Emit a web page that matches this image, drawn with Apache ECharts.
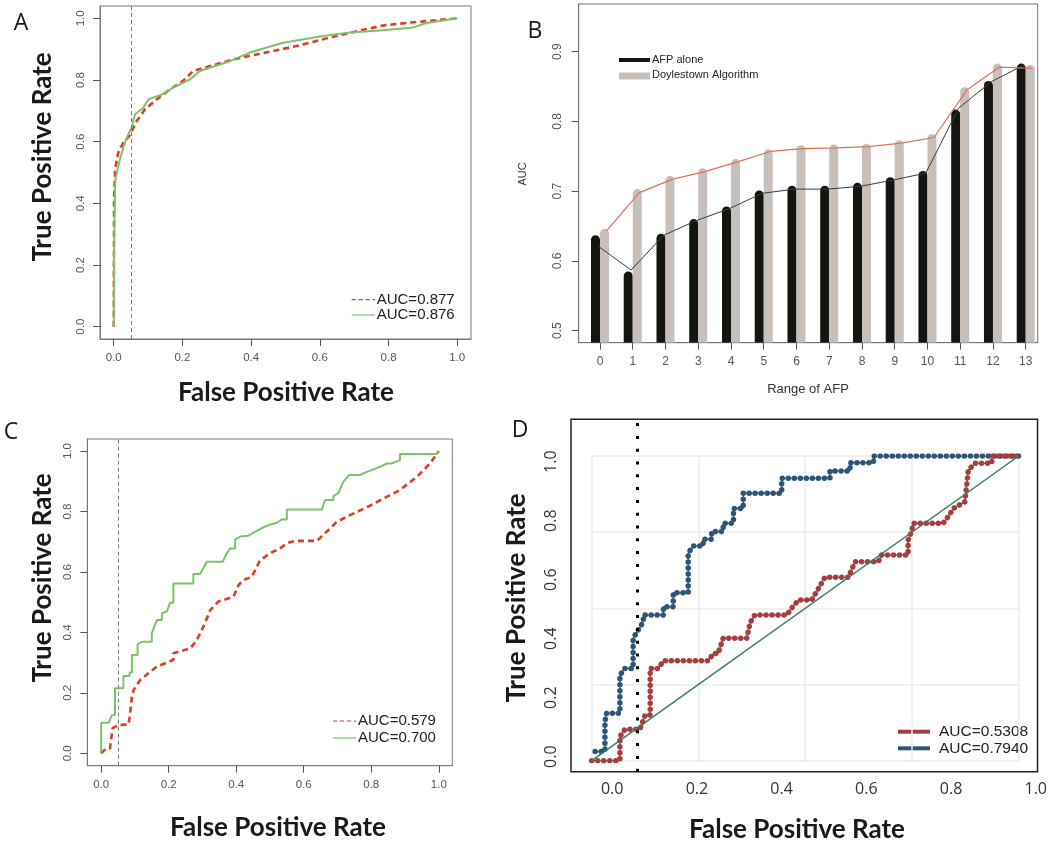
<!DOCTYPE html>
<html>
<head>
<meta charset="utf-8">
<title>ROC panels</title>
<script src="https://cdn.jsdelivr.net/npm/echarts@6/dist/echarts.min.js"></script>
<style>
  html, body { margin: 0; padding: 0; background: #fff; }
  #chart { width: 1050px; height: 844px; }
</style>
</head>
<body>
<div id="chart"></div>
<script>
// panel A - ROC, whole cohort
const aFprDash = [0, 0.001, 0.004, 0.013, 0.028, 0.045, 0.067, 0.091, 0.125, 0.164, 0.202, 0.231, 0.299, 0.348, 0.416, 0.532, 0.648, 0.784, 0.881, 1];
const aTprDash = [0, 0.413, 0.510, 0.564, 0.597, 0.618, 0.667, 0.705, 0.737, 0.770, 0.797, 0.829, 0.851, 0.867, 0.883, 0.910, 0.943, 0.977, 0.988, 1];
const aFprSolid = [0, 0.001, 0.004, 0.005, 0.018, 0.028, 0.038, 0.052, 0.062, 0.086, 0.101, 0.140, 0.173, 0.222, 0.251, 0.338, 0.396, 0.493, 0.609, 0.687, 0.784, 0.871, 0.910, 1];
const aTprSolid = [0, 0.251, 0.445, 0.478, 0.543, 0.581, 0.613, 0.645, 0.689, 0.710, 0.737, 0.753, 0.775, 0.802, 0.829, 0.861, 0.889, 0.921, 0.943, 0.954, 0.961, 0.970, 0.985, 1];

// panel B - AUC by range of AFP
const afpRanges = [0, 1, 2, 3, 4, 5, 6, 7, 8, 9, 10, 11, 12, 13];
const aucAfpAlone = [0.637, 0.585, 0.639, 0.660, 0.678, 0.701, 0.708, 0.708, 0.712, 0.720, 0.729, 0.817, 0.858, 0.883];
const aucDoylestown = [0.646, 0.703, 0.722, 0.733, 0.746, 0.760, 0.766, 0.767, 0.768, 0.773, 0.782, 0.849, 0.883, 0.881];
const trendAfpAlone = [0.621, 0.587, 0.637, 0.658, 0.675, 0.697, 0.703, 0.703, 0.707, 0.716, 0.726, 0.819, 0.857, 0.881];
const trendDoylestown = [0.643, 0.698, 0.717, 0.728, 0.742, 0.757, 0.761, 0.762, 0.764, 0.769, 0.777, 0.845, 0.878, 0.876];
const bTicks = [0.5, 0.6, 0.7, 0.8, 0.9];

// panel C - ROC, subgroup
const cFprDash = [0, 0.015, 0.026, 0.034, 0.051, 0.081, 0.086, 0.091, 0.096, 0.115, 0.140, 0.165, 0.195, 0.214, 0.214, 0.264, 0.283, 0.303, 0.323, 0.347, 0.392, 0.407, 0.421, 0.446, 0.471, 0.500, 0.530, 0.550, 0.574, 0.639, 0.663, 0.698, 0.737, 0.787, 0.836, 0.885, 0.935, 0.974, 1];
const cTprDash = [0, 0.016, 0.016, 0.083, 0.094, 0.095, 0.132, 0.187, 0.209, 0.242, 0.265, 0.287, 0.300, 0.309, 0.331, 0.347, 0.375, 0.419, 0.474, 0.502, 0.518, 0.557, 0.573, 0.584, 0.639, 0.662, 0.678, 0.695, 0.703, 0.703, 0.728, 0.766, 0.788, 0.814, 0.843, 0.871, 0.915, 0.959, 1];
const cFprSolid = [0, 0, 0.022, 0.032, 0.041, 0.041, 0.066, 0.066, 0.084, 0.084, 0.091, 0.091, 0.108, 0.108, 0.120, 0.150, 0.150, 0.158, 0.165, 0.180, 0.180, 0.195, 0.204, 0.214, 0.214, 0.273, 0.273, 0.293, 0.313, 0.360, 0.372, 0.382, 0.397, 0.397, 0.412, 0.436, 0.461, 0.481, 0.496, 0.520, 0.535, 0.550, 0.550, 0.654, 0.663, 0.688, 0.688, 0.703, 0.717, 0.735, 0.767, 0.780, 0.801, 0.826, 0.846, 0.860, 0.885, 0.885, 0.994, 1];
const cTprSolid = [0, 0.101, 0.101, 0.127, 0.127, 0.215, 0.215, 0.256, 0.256, 0.267, 0.267, 0.325, 0.325, 0.360, 0.369, 0.369, 0.397, 0.421, 0.441, 0.441, 0.463, 0.470, 0.498, 0.498, 0.562, 0.562, 0.593, 0.593, 0.634, 0.634, 0.662, 0.678, 0.678, 0.708, 0.717, 0.720, 0.736, 0.748, 0.755, 0.763, 0.774, 0.774, 0.807, 0.807, 0.838, 0.838, 0.851, 0.862, 0.898, 0.921, 0.921, 0.928, 0.937, 0.948, 0.959, 0.959, 0.970, 0.990, 0.990, 1];

// panel D - ROC with thresholds marked
const dFprBlue = [0.008, 0.031, 0.031, 0.035, 0.066, 0.066, 0.078, 0.097, 0.097, 0.109, 0.121, 0.121, 0.168, 0.168, 0.191, 0.191, 0.226, 0.226, 0.238, 0.261, 0.261, 0.281, 0.281, 0.308, 0.308, 0.332, 0.332, 0.355, 0.355, 0.445, 0.445, 0.558, 0.558, 0.605, 0.605, 0.660, 0.660, 1];
const dTprBlue = [0.030, 0.030, 0.128, 0.156, 0.156, 0.281, 0.303, 0.303, 0.402, 0.429, 0.456, 0.478, 0.478, 0.505, 0.505, 0.551, 0.551, 0.681, 0.705, 0.705, 0.727, 0.727, 0.752, 0.752, 0.779, 0.779, 0.828, 0.828, 0.878, 0.878, 0.927, 0.927, 0.951, 0.951, 0.978, 0.978, 1, 1];
const dFprRed = [0, 0.066, 0.066, 0.078, 0.113, 0.125, 0.137, 0.137, 0.156, 0.168, 0.273, 0.285, 0.296, 0.308, 0.363, 0.371, 0.382, 0.457, 0.468, 0.484, 0.515, 0.527, 0.546, 0.601, 0.609, 0.617, 0.671, 0.679, 0.741, 0.741, 0.749, 0.753, 0.823, 0.835, 0.847, 0.874, 0.882, 0.898, 0.937, 0.937, 1];
const dTprRed = [0, 0, 0.079, 0.103, 0.103, 0.150, 0.150, 0.303, 0.303, 0.328, 0.328, 0.352, 0.352, 0.402, 0.402, 0.453, 0.478, 0.478, 0.500, 0.527, 0.527, 0.555, 0.602, 0.602, 0.628, 0.653, 0.653, 0.675, 0.675, 0.724, 0.752, 0.779, 0.779, 0.801, 0.828, 0.850, 0.954, 0.976, 0.976, 1, 1];
const chanceLine = [0, 1];
const rateTicks = [0, 0.2, 0.4, 0.6, 0.8, 1];

const fprCutoff = 0.05;
const dCutoff = 0.055;

const zip = (xs, ys) => xs.map((x, i) => [x, ys[i]]);

const RED = '#e03b24';
const GREEN = '#7dc36b';
const DBLUE = '#2e5577';
const DRED = '#a53f3f';

// R style axis: box drawn by the grid, ticks outside, labels from customValues
function rAxis(grid, min, max, ticks, opts) {
	opts = opts || {};
	return {
		type: 'value', gridIndex: grid, min: min, max: max,
		axisLine: { show: true, onZero: false, lineStyle: { color: '#777', width: 1 } },
		splitLine: { show: false },
		axisTick: { show: true, customValues: ticks, length: 7, lineStyle: { color: '#555', width: 1 } },
		axisLabel: {
			customValues: ticks, margin: opts.margin || 13, rotate: opts.rotate || 0,
			color: '#555', fontSize: opts.fontSize || 11.5, fontFamily: 'Liberation Sans',
			formatter: opts.formatter || (v => v.toFixed(1))
		}
	};
}

function lineSeries(x, y, data, style, extra) {
	return Object.assign({
		type: 'line', xAxisIndex: x, yAxisIndex: y, data: data,
		symbol: 'none', showSymbol: false, animation: false,
		lineStyle: style
	}, extra || {});
}

function cutLine(value, style) {
	return { silent: true, symbol: 'none', label: { show: false }, lineStyle: style, data: [{ xAxis: value }] };
}

function barRender(offset, color) {
	return function (params, api) {
		const x = api.value(0), v = api.value(1);
		const w = 0.275;
		const x0 = offset < 0 ? x - w : x;
		const p0 = api.coord([x0, v]);
		const p1 = api.coord([x0 + w, v]);
		const bottom = params.coordSys.y + params.coordSys.height;
		const r = (p1[0] - p0[0]) / 2;
		return {
			type: 'rect',
			shape: { x: p0[0], y: p0[1], width: p1[0] - p0[0], height: bottom - p0[1], r: [r, r, 0, 0] },
			style: { fill: color }
		};
	};
}

function txt(x, y, s, font, fill, rot) {
	return {
		type: 'text', x: x, y: y, silent: true, rotation: rot || 0,
		style: { text: s, font: font, fill: fill || '#1a1a1a', align: 'center', verticalAlign: 'middle', textAlign: 'center', textVerticalAlign: 'middle' }
	};
}
function seg(x1, y1, x2, y2, stroke, width, dash) {
	return { type: 'line', silent: true, shape: { x1: x1, y1: y1, x2: x2, y2: y2 }, style: { stroke: stroke, lineWidth: width, lineDash: dash || null } };
}
function legText(x, y, s, size) {
	return { type: 'text', x: x, y: y, silent: true, style: { text: s, font: size + 'px "Liberation Sans"', fill: '#222', align: 'left', verticalAlign: 'middle', textAlign: 'left', textVerticalAlign: 'middle' } };
}

const TITLE = 'bold 26px Lato';
const LETTER = '23px "Open Sans"';
const UP = Math.PI / 2;

const chart = echarts.init(document.getElementById('chart'), null, { renderer: 'canvas' });

chart.setOption({
	backgroundColor: '#fff',
	animation: false,
	grid: [
		{ left: 100, top: 6, width: 371, height: 333, show: true, borderColor: '#777', borderWidth: 1 },
		{ left: 578.7, top: 4, width: 459, height: 338.7, show: true, borderColor: '#777', borderWidth: 1 },
		{ left: 87.3, top: 439, width: 365, height: 326.7, show: true, borderColor: '#777', borderWidth: 1 },
		{ left: 571, top: 419.3, width: 474.7, height: 352.4, show: true, borderColor: '#222', borderWidth: 1.5 },
		{ left: 591.7, top: 456, width: 427, height: 304.7 }
	],
	xAxis: [
		rAxis(0, -0.04, 1.04, rateTicks),
		rAxis(1, -0.65, 13.366, afpRanges, { fontSize: 12, formatter: v => String(v) }),
		rAxis(2, -0.041, 1.04, rateTicks),
		{
			type: 'value', gridIndex: 3, min: -0.0972, max: 1.0042,
			axisLine: { show: false, onZero: false }, axisTick: { show: false }, splitLine: { show: false },
			axisLabel: { customValues: rateTicks, margin: 10, color: '#333', fontSize: 16, fontFamily: 'Open Sans', formatter: v => v.toFixed(1) }
		},
		{
			type: 'value', gridIndex: 4, min: 0, max: 1, interval: 0.25,
			axisLine: { show: false, onZero: false }, axisTick: { show: false }, axisLabel: { show: false },
			splitLine: { show: true, lineStyle: { color: '#ebebeb', width: 1.5 } }
		}
	],
	yAxis: [
		rAxis(0, -0.04, 1.04, rateTicks, { rotate: 90 }),
		rAxis(1, 0.4828, 0.9684, bTicks, { rotate: 90, fontSize: 12, margin: 15 }),
		rAxis(2, -0.041, 1.04, rateTicks, { rotate: 90 }),
		{
			type: 'value', gridIndex: 3, min: -0.0508, max: 1.1437,
			axisLine: { show: false, onZero: false }, axisTick: { show: false }, splitLine: { show: false },
			axisLabel: { customValues: rateTicks, margin: 12, rotate: 90, color: '#333', fontSize: 16, fontFamily: 'Open Sans', formatter: v => v.toFixed(1) }
		},
		{
			type: 'value', gridIndex: 4, min: 0, max: 1, interval: 0.25,
			axisLine: { show: false, onZero: false }, axisTick: { show: false }, axisLabel: { show: false },
			splitLine: { show: true, lineStyle: { color: '#ebebeb', width: 1.5 } }
		}
	],
	series: [
		// A
		lineSeries(0, 0, zip(aFprDash, aTprDash), { color: RED, width: 2.6, type: [6, 4] },
			{ markLine: cutLine(fprCutoff, { color: '#7a7a7a', width: 1, type: [4, 3] }) }),
		lineSeries(0, 0, zip(aFprSolid, aTprSolid), { color: GREEN, width: 2 }),

		// B
		{
			type: 'custom', xAxisIndex: 1, yAxisIndex: 1, renderItem: barRender(-1, '#141410'),
			data: zip(afpRanges, aucAfpAlone), clip: true
		},
		{
			type: 'custom', xAxisIndex: 1, yAxisIndex: 1, renderItem: barRender(1, '#c6bfba'),
			data: zip(afpRanges, aucDoylestown), clip: true
		},
		lineSeries(1, 1, zip(afpRanges.map(i => i - 0.05), trendAfpAlone), { color: '#3a3a3a', width: 1 }, { z: 5 }),
		lineSeries(1, 1, zip(afpRanges.map(i => i + 0.2), trendDoylestown), { color: '#e0705c', width: 1.2 }, { z: 5 }),

		// C
		lineSeries(2, 2, zip(cFprDash, cTprDash), { color: RED, width: 2.6, type: [6, 4] },
			{ markLine: cutLine(fprCutoff, { color: '#7a7a7a', width: 1, type: [4, 3] }) }),
		lineSeries(2, 2, zip(cFprSolid, cTprSolid), { color: GREEN, width: 2 }),

		// D - cutoff on the outer (label) axes
		lineSeries(3, 3, [], { width: 0 }, {
			markLine: cutLine(dCutoff, { color: '#000', width: 3, type: [3, 9.8] })
		}),
		lineSeries(4, 4, zip(dFprBlue, dTprBlue), { color: DBLUE, width: 1.2 }),
		lineSeries(4, 4, zip(dFprBlue, dTprBlue), { color: DBLUE, width: 5.5, type: [0.01, 6], cap: 'round' }),
		lineSeries(4, 4, zip(dFprRed, dTprRed), { color: DRED, width: 1.2 }),
		lineSeries(4, 4, zip(dFprRed, dTprRed), { color: DRED, width: 5.5, type: [0.01, 6], cap: 'round' }),
		lineSeries(4, 4, zip(chanceLine, chanceLine), { color: '#3b7a66', width: 1.5 })
	],
	graphic: [
		// panel letters
		txt(21, 23, 'A', LETTER),
		txt(535, 31, 'B', LETTER),
		txt(11, 432, 'C', LETTER),
		txt(520, 430, 'D', LETTER),

		// axis titles
		txt(43, 157, 'True Positive Rate', TITLE, null, UP),
		txt(286, 393, 'False Positive Rate', TITLE),
		txt(523, 174, 'AUC', '11px "Liberation Sans"', '#333', UP),
		txt(808, 389, 'Range of AFP', '13px "Liberation Sans"', '#333'),
		txt(43, 578, 'True Positive Rate', TITLE, null, UP),
		txt(278, 828, 'False Positive Rate', TITLE),
		txt(517, 598, 'True Positive Rate', TITLE, null, UP),
		txt(797, 830, 'False Positive Rate', TITLE),

		// legend A
		seg(351.7, 299.7, 375, 299.7, RED, 1.2, [4, 3]),
		legText(376.7, 299.7, 'AUC=0.877', 15),
		seg(351.7, 315, 375, 315, GREEN, 1.2),
		legText(376.7, 315, 'AUC=0.876', 15),

		// legend B
		seg(619, 60, 650, 60, '#141410', 4),
		legText(652, 60, 'AFP alone', 11),
		seg(619, 76, 650, 76, '#c6bfba', 7),
		legText(652, 75, 'Doylestown Algorithm', 11),

		// legend C
		seg(333, 721, 356, 721, RED, 1.2, [4, 3]),
		legText(358, 721, 'AUC=0.579', 15),
		seg(333, 738, 356, 738, GREEN, 1.2),
		legText(358, 738, 'AUC=0.700', 15),

		// legend D
		seg(898, 731.7, 930, 731.7, DRED, 4),
		legText(939, 731.7, 'AUC=0.5308', 15.5),
		seg(898, 748.3, 930, 748.3, DBLUE, 4),
		legText(939, 748.3, 'AUC=0.7940', 15.5)
	]
});
</script>
</body>
</html>
